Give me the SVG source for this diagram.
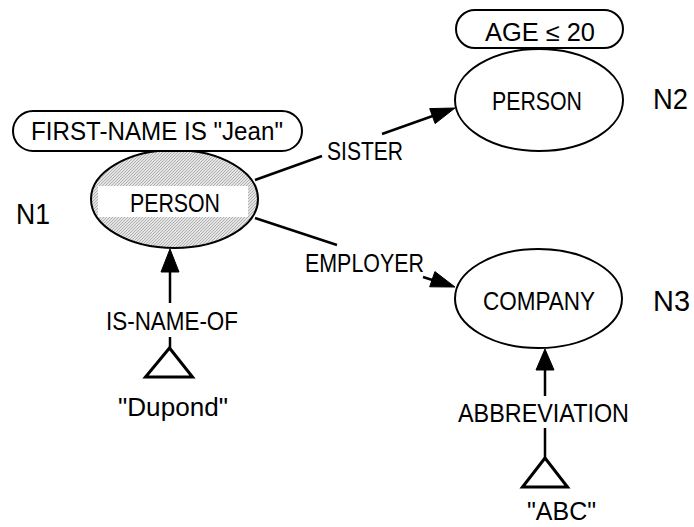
<svg xmlns="http://www.w3.org/2000/svg" width="694" height="527" viewBox="0 0 694 527">
<style>
text{font-family:"Liberation Sans",Arial,sans-serif;fill:#000;}
.t{font-size:25px;}
.n{font-size:29px;}
.node{fill:#fff;stroke:#000;stroke-width:2;}
.pill{fill:#fff;stroke:#000;stroke-width:2;}
.edge{stroke:#000;stroke-width:2.5;fill:none;}
.head{fill:#000;stroke:#000;stroke-width:1;stroke-linejoin:miter;}
.tri{fill:#fff;stroke:#000;stroke-width:3;stroke-linejoin:miter;}
</style>
<defs>
<pattern id="hatch" patternUnits="userSpaceOnUse" width="3" height="3">
<rect width="3" height="3" fill="#e4e4e4"/>
<path d="M-1,1 L1,-1 M0,3 L3,0 M2,4 L4,2" stroke="#a4a4a4" stroke-width="0.8"/>
</pattern>
</defs>
<rect width="694" height="527" fill="#fff"/>

<g id="connectors">
<line class="edge" x1="255" y1="180" x2="322" y2="156"/>
<line class="edge" x1="382" y1="134" x2="434" y2="115.5"/>
<polygon class="head" points="455,108 435.1,123.6 429.7,108.6"/>
<line class="edge" x1="255" y1="218" x2="337" y2="245"/>
<line class="edge" x1="423" y1="277" x2="434" y2="280.5"/>
<polygon class="head" points="455,287 429.7,286.8 434.9,271.6"/>
<line class="edge" x1="170" y1="271" x2="170" y2="303"/>
<polygon class="head" points="170,249 161,272 179,272"/>
<line class="edge" x1="170" y1="337" x2="170" y2="348"/>
<line class="edge" x1="545" y1="369" x2="545" y2="396"/>
<polygon class="head" points="545,349 536,370 554,370"/>
<line class="edge" x1="545" y1="428" x2="545" y2="458"/>
<text class="t" x="327" y="160" textLength="76" lengthAdjust="spacingAndGlyphs">SISTER</text>
<text class="t" x="305" y="272" textLength="119" lengthAdjust="spacingAndGlyphs">EMPLOYER</text>
<text class="t" x="106" y="330" textLength="132" lengthAdjust="spacingAndGlyphs">IS-NAME-OF</text>
<text class="t" x="458" y="422" textLength="171" lengthAdjust="spacingAndGlyphs">ABBREVIATION</text>
</g>

<g id="N1">
<ellipse cx="174.5" cy="199" rx="83.5" ry="49" fill="url(#hatch)" stroke="#000" stroke-width="2"/>
<rect x="98" y="186" width="150" height="31" fill="#fff"/>
<text class="t" x="130" y="212" textLength="90" lengthAdjust="spacingAndGlyphs">PERSON</text>
<rect class="pill" x="13" y="111" width="289" height="40" rx="20" ry="20"/>
<text class="t" x="31" y="140" textLength="252" lengthAdjust="spacingAndGlyphs">FIRST-NAME IS "Jean"</text>
<text class="n" x="16" y="224" textLength="34" lengthAdjust="spacingAndGlyphs">N1</text>
</g>

<g id="N2">
<ellipse class="node" cx="539" cy="100" rx="84" ry="51"/>
<text class="t" x="492" y="110" textLength="90" lengthAdjust="spacingAndGlyphs">PERSON</text>
<rect class="pill" x="456" y="10" width="167" height="38" rx="19" ry="19"/>
<text class="t" x="485" y="41" textLength="110" lengthAdjust="spacingAndGlyphs">AGE ≤ 20</text>
<text class="n" x="653" y="109" textLength="35" lengthAdjust="spacingAndGlyphs">N2</text>
</g>

<g id="N3">
<ellipse class="node" cx="538.5" cy="298.5" rx="83.5" ry="49.5"/>
<text class="t" x="483" y="310" textLength="112" lengthAdjust="spacingAndGlyphs">COMPANY</text>
<text class="n" x="653" y="311" textLength="37" lengthAdjust="spacingAndGlyphs">N3</text>
</g>

<g id="dupond">
<polygon class="tri" points="169.5,348 145.5,377 192.5,377"/>
<text class="t" x="118" y="416" textLength="110" lengthAdjust="spacingAndGlyphs">"Dupond"</text>
</g>

<g id="abc">
<polygon class="tri" points="545,458 522.5,487 567.5,487"/>
<text class="t" x="527" y="520" textLength="69" lengthAdjust="spacingAndGlyphs">"ABC"</text>
</g>
</svg>
